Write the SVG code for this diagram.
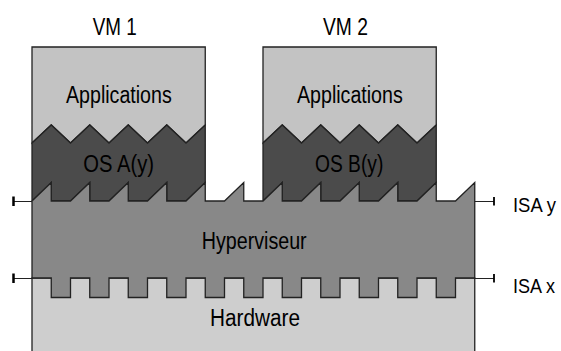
<svg xmlns="http://www.w3.org/2000/svg" width="561" height="351" viewBox="0 0 561 351">
<style>
.lbl{font-family:"Liberation Sans",Arial,sans-serif;font-size:23px;fill:#000}
.edge{stroke:#222;stroke-width:1.3;stroke-linejoin:miter}
.apps{fill:#c3c3c3}
.os{fill:#4b4b4b}
.hyp{fill:#888888}
.hw{fill:#cecece}
.isa{stroke:#222;stroke-width:1.2;fill:none}
.tick{stroke:#000;stroke-width:2.5}
</style>
<rect width="561" height="351" fill="#fff"/>
<g id="hardware">
<rect class="hw edge" x="32" y="278" width="442.75" height="90"/>
<text class="lbl" x="210" y="325.5" textLength="90" lengthAdjust="spacingAndGlyphs">Hardware</text>
</g>
<g id="vm1">
<g id="vm1-apps">
<path class="apps edge" d="M32,47 H205.25 V125 L186,143 L166.75,125 L147.5,143 L128.25,125 L109,143 L89.75,125 L70.5,143 L51.25,125 L32,143 Z"/>
<text class="lbl" x="66" y="103.3" textLength="105.7" lengthAdjust="spacingAndGlyphs">Applications</text>
</g>
<g id="vm1-os">
<path class="os edge" d="M32,143 L51.25,125 L70.5,143 L89.75,125 L109,143 L128.25,125 L147.5,143 L166.75,125 L186,143 L205.25,125 V182.5 L186,201 H166.75 V182.5 L147.5,201 H128.25 V182.5 L109,201 H89.75 V182.5 L70.5,201 H51.25 V182.5 L32,201 Z"/>
<text class="lbl" x="83.3" y="171.7" textLength="70.7" lengthAdjust="spacingAndGlyphs">OS A(y)</text>
</g>
<text class="lbl" x="92.7" y="35" textLength="44" lengthAdjust="spacingAndGlyphs">VM 1</text>
</g>
<g id="vm2">
<g id="vm2-apps">
<path class="apps edge" d="M263,47 H436.25 V125 L417,143 L397.75,125 L378.5,143 L359.25,125 L340,143 L320.75,125 L301.5,143 L282.25,125 L263,143 Z"/>
<text class="lbl" x="297" y="103.3" textLength="105.7" lengthAdjust="spacingAndGlyphs">Applications</text>
</g>
<g id="vm2-os">
<path class="os edge" d="M263,143 L282.25,125 L301.5,143 L320.75,125 L340,143 L359.25,125 L378.5,143 L397.75,125 L417,143 L436.25,125 V182.5 L417,201 H397.75 V182.5 L378.5,201 H359.25 V182.5 L340,201 H320.75 V182.5 L301.5,201 H282.25 V182.5 L263,201 Z"/>
<text class="lbl" x="315" y="171.7" textLength="68.3" lengthAdjust="spacingAndGlyphs">OS B(y)</text>
</g>
<text class="lbl" x="323" y="35" textLength="45" lengthAdjust="spacingAndGlyphs">VM 2</text>
</g>
<g id="hypervisor">
<path class="hyp edge" d="M32,201 L51.25,182.5 V201 H70.5 L89.75,182.5 V201 H109 L128.25,182.5 V201 H147.5 L166.75,182.5 V201 H186 L205.25,182.5 V201 H224.5 L243.75,182.5 V201 H263 L282.25,182.5 V201 H301.5 L320.75,182.5 V201 H340 L359.25,182.5 V201 H378.5 L397.75,182.5 V201 H417 L436.25,182.5 V201 H455.5 L474.75,182.5 V278 H455.5 V297.5 H436.25 V278 H417 V297.5 H397.75 V278 H378.5 V297.5 H359.25 V278 H340 V297.5 H320.75 V278 H301.5 V297.5 H282.25 V278 H263 V297.5 H243.75 V278 H224.5 V297.5 H205.25 V278 H186 V297.5 H166.75 V278 H147.5 V297.5 H128.25 V278 H109 V297.5 H89.75 V278 H70.5 V297.5 H51.25 V278 H32 Z"/>
<text class="lbl" x="201.7" y="249" textLength="105" lengthAdjust="spacingAndGlyphs">Hyperviseur</text>
</g>
<g id="connectors">
<path class="isa" d="M13,201.5 H32 M474.75,201.5 H494 M13,278.5 H32 M474.75,278.5 H494"/>
<path class="tick" d="M13.5,196.5 V206 M13.5,273.5 V283"/>
<path class="tick" style="stroke-width:1.8" d="M494,197 V205.5 M494,274 V282.5"/>
</g>
<g id="isa-labels">
<text class="lbl" x="513" y="211.7" style="font-size:21px" textLength="43" lengthAdjust="spacingAndGlyphs">ISA y</text>
<text class="lbl" x="513" y="293.3" style="font-size:21px" textLength="42" lengthAdjust="spacingAndGlyphs">ISA x</text>
</g>
</svg>
